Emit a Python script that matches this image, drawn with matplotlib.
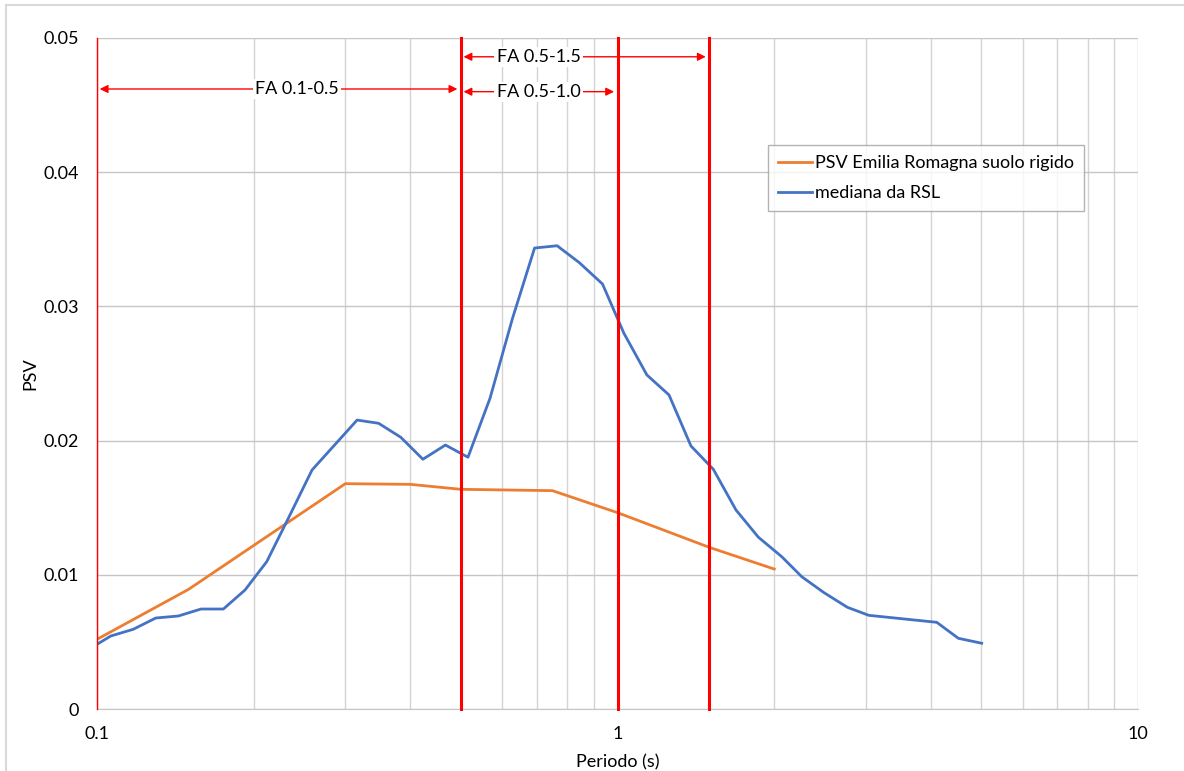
import matplotlib
matplotlib.use("Agg")
import matplotlib.pyplot as plt
from matplotlib.ticker import FixedLocator, NullFormatter, FixedFormatter
from matplotlib.lines import Line2D

# Data
period_er = [0.1, 0.15, 0.3, 0.4, 0.5, 0.75, 1.0, 1.5, 2.0]
psv_er = [0.00519, 0.00892, 0.01679, 0.01674, 0.01637, 0.01627, 0.01463, 0.01205, 0.01043]

period_rsl = [0.1, 0.1063, 0.1174, 0.1297, 0.1433, 0.1584, 0.1749, 0.1925, 0.2119, 0.2338,
              0.2589, 0.316, 0.3475, 0.3833, 0.4228, 0.4671, 0.5161, 0.5689, 0.6285, 0.6929,
              0.7656, 0.8446, 0.9358, 1.0287, 1.139, 1.256, 1.384, 1.528, 1.689, 1.865,
              2.068, 2.259, 2.493, 2.764, 3.039, 4.105, 4.516, 5.008]
psv_rsl = [0.00482, 0.00544, 0.00594, 0.00678, 0.00693, 0.00745, 0.00745, 0.00887, 0.01098, 0.01431,
           0.01781, 0.02153, 0.02129, 0.02025, 0.01861, 0.01967, 0.01876, 0.02315, 0.02911, 0.03435,
           0.03452, 0.03326, 0.03167, 0.02800, 0.02489, 0.02340, 0.01960, 0.01786, 0.01483, 0.01280,
           0.01135, 0.00986, 0.00867, 0.00758, 0.00698, 0.00646, 0.00527, 0.00490]

red_lines = [0.1, 0.5, 1.0, 1.5]
red_widths = [1.0, 2.2, 2.2, 2.2]
ranges = [("FA 0.1-0.5", 0.1, 0.5, 0.0462, 0.242),
          ("FA 0.5-1.0", 0.5, 1.0, 0.0460, 0.705),
          ("FA 0.5-1.5", 0.5, 1.5, 0.0486, 0.705)]

y_ticks = [0, 0.01, 0.02, 0.03, 0.04, 0.05]
y_labels = ["0", "0.01", "0.02", "0.03", "0.04", "0.05"]
x_ticks = [0.1, 1, 10]
x_labels = ["0.1", "1", "10"]

plt.rcParams['font.family'] = ['Lato', 'DejaVu Sans']

fig = plt.figure(figsize=(11.84, 7.71), dpi=100)
ax = fig.add_axes([97/1184, 1-709/771, (1138-97)/1184, (709-38)/771])

ax.set_xscale('log')
ax.set_xlim(0.1, 10)
ax.set_ylim(0, 0.05)

minor = [m * 10**e for e in (-1, 0) for m in range(2, 10)]
ax.xaxis.set_major_locator(FixedLocator(x_ticks))
ax.xaxis.set_major_formatter(FixedFormatter(x_labels))
ax.xaxis.set_minor_locator(FixedLocator(minor))
ax.xaxis.set_minor_formatter(NullFormatter())
ax.yaxis.set_major_locator(FixedLocator(y_ticks))
ax.yaxis.set_major_formatter(FixedFormatter(y_labels))

ax.grid(True, which='major', color='#c6c6c6', lw=1.0)
ax.grid(True, which='minor', axis='x', color='#d4d4d4', lw=1.0)
ax.set_axisbelow(True)
ax.tick_params(which='both', length=0, labelsize=13, colors='#000000')
ax.tick_params(axis='y', pad=13)
ax.tick_params(axis='x', pad=12)

for s in ['top', 'right', 'left']:
    ax.spines[s].set_visible(False)
ax.spines['bottom'].set_color('#c6c6c6')

ax.plot(period_er, psv_er, color='#ED7D31', lw=2.0, label='PSV Emilia Romagna suolo rigido', zorder=3)
ax.plot(period_rsl, psv_rsl, color='#4472C4', lw=2.0, label='mediana da RSL', zorder=3)

for xv, w in zip(red_lines, red_widths):
    ax.axvline(xv, color='#FF0000', lw=w, zorder=4, clip_on=False)

for txt, x0, x1, yv, xt in ranges:
    ax.annotate('', xy=(x0 * 1.012, yv), xytext=(x1 * 0.985, yv),
                arrowprops=dict(arrowstyle='<|-|>', color='#FF0000', lw=1.0,
                                mutation_scale=12, shrinkA=0, shrinkB=0), zorder=5)
    ax.text(xt, yv, txt, ha='center', va='center', fontsize=13,
            bbox=dict(facecolor='white', edgecolor='none', pad=1.5), zorder=6)

ax.set_xlabel('Periodo (s)', fontsize=13, labelpad=9)
ax.set_ylabel('PSV', fontsize=13, labelpad=4)

leg = fig.legend(loc='upper left', bbox_to_anchor=(768/1184, 1-145/771), fontsize=13,
                 frameon=True, fancybox=False, edgecolor='#a0a0a0', handlelength=1.9,
                 handletextpad=0.15, borderpad=0.55, labelspacing=0.8, borderaxespad=0)
leg.get_frame().set_linewidth(1.0)

# chart outer border (left and top visible)
fig.add_artist(Line2D([6/1184, 6/1184], [0, 1-5/771], transform=fig.transFigure,
                      color='#d9d9d9', lw=1.5))
fig.add_artist(Line2D([6/1184, 1], [1-5/771, 1-5/771], transform=fig.transFigure,
                      color='#d9d9d9', lw=1.5))

fig.savefig('out.png', dpi=100)
